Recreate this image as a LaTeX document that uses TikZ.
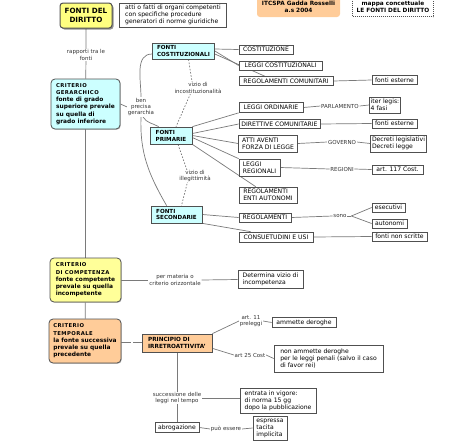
\documentclass[tikz,border=0pt]{standalone}
\usepackage{fontspec}
\setmainfont{DejaVu Sans}
\usetikzlibrary{shadows}
\pgfdeclarelayer{bg}
\pgfsetlayers{bg,main}
\definecolor{cyanbox}{HTML}{CCFFFF}
\definecolor{yelbox}{HTML}{FFFF99}
\definecolor{yeltop}{HTML}{FFFF80}
\definecolor{orabox}{HTML}{FFCC99}
\definecolor{lncol}{HTML}{7A7A7A}
\definecolor{bdcol}{HTML}{505050}
\newcommand\crh[1]{{\addfontfeature{LetterSpace=8}\fontsize{5.3}{7}\selectfont #1}}
\tikzset{
  wh/.style 2 args={minimum width=#1pt, minimum height=#2pt},
  bxb/.style={draw=bdcol, line width=0.7pt, fill=white, inner xsep=1.3pt, inner ysep=0.6pt, align=left, font=\fontsize{6.1}{7}\selectfont},
  bx/.style={bxb, drop shadow={shadow xshift=0.7pt, shadow yshift=-0.7pt, fill=black!45}},
  cybox/.style={bx, fill=cyanbox, font=\bfseries\fontsize{5.6}{6.9}\selectfont},
  crit/.style={draw=bdcol, line width=0.8pt, rounded corners=4pt, align=left, inner xsep=2.5pt, font=\bfseries\fontsize{5.9}{7.2}\selectfont, drop shadow={shadow xshift=0.8pt, shadow yshift=-0.8pt, fill=black!45}},
  lab/.style={fill=white, inner sep=0.6pt, align=center, text=black!80, font=\fontsize{5.5}{6.4}\selectfont},
  conn/.style={draw=lncol, line width=0.7pt},
  dconn/.style={conn, dash pattern=on 1.6pt off 1.6pt},
}
\begin{document}
\begin{tikzpicture}[x=1pt,y=-1pt]
\useasboundingbox (0,0) rectangle (474,445);
% header
\node[draw=bdcol, line width=1pt, fill=yeltop, rounded corners=3pt, wh={52}{25}, align=center, font=\bfseries\fontsize{7.2}{8.6}\selectfont, drop shadow={shadow xshift=1.5pt,shadow yshift=-1.5pt,fill=black!85}] (fdd) at (86,15.5) {FONTI DEL\\DIRITTO};
\node[bx, wh={107}{24}] (desc) at (173,15) {atti o fatti di organi competenti\\con specifiche procedure\\generatori di norme giuridiche};
\node[bxb, draw=none, fill=orabox, rounded corners=3pt, wh={83}{21}, align=center, font=\bfseries\fontsize{5.8}{7}\selectfont] (itc) at (298.5,6.5) {ITCSPA Gadda Rosselli\\a.s 2004};
\node[bxb, dash pattern=on 1pt off 1pt, wh={81}{20}, align=center, font=\bfseries\fontsize{5.8}{7}\selectfont] (mappa) at (393,6.5) {mappa concettuale\\LE FONTI DEL DIRITTO};
% criteria
\node[crit, fill=cyanbox, wh={69}{50}] (cg) at (85.5,104) {\crh{CRITERIO}\\\crh{GERARCHICO}\\fonte di grado\\superiore prevale\\su quella di\\grado inferiore};
\node[crit, fill=yelbox, wh={71}{44}] (cc) at (85.5,280) {\crh{CRITERIO}\\\crh{DI COMPETENZA}\\fonte competente\\prevale su quella\\incompetente};
\node[crit, fill=orabox, wh={72}{44}] (ct) at (85,341) {\crh{CRITERIO}\\\crh{TEMPORALE}\\la fonte successiva\\prevale su quella\\precedente};
% fonti
\node[cybox, wh={62}{16}] (fc) at (183.5,51) {FONTI\\COSTITUZIONALI};
\node[cybox, wh={42}{17}] (fp) at (171,135.5) {FONTI\\PRIMARIE};
\node[cybox, wh={51}{17}] (fs) at (176.5,214.5) {FONTI\\SECONDARIE};
% right boxes
\node[bx, wh={54}{9}] (cost) at (266,49.5) {COSTITUZIONE};
\node[bx, wh={83}{9}] (lcost) at (280.5,65.5) {LEGGI COSTITUZIONALI};
\node[bx, wh={94}{9}] (regcom) at (286,81) {REGOLAMENTI COMUNITARI};
\node[bx, wh={45}{9}] (fe1) at (394.5,80) {fonti esterne};
\node[bx, wh={64}{10}] (lord) at (271,107.5) {LEGGI ORDINARIE};
\node[lab] (parl) at (340,106) {PARLAMENTO};
\node[bx, wh={26}{16}] (iter) at (385,105) {iter legis:\\4 fasi};
\node[bx, wh={81}{9}] (dircom) at (279.5,124) {DIRETTIVE COMUNITARIE};
\node[bx, wh={45}{9}] (fe2) at (394.5,123.5) {fonti esterne};
\node[bx, wh={59}{17}] (atti) at (268,143.5) {ATTI AVENTI\\FORZA DI LEGGE};
\node[lab] (gov) at (342,142) {GOVERNO};
\node[bx, wh={53}{17}] (decr) at (398.5,143.5) {Decreti legislativi\\Decreti legge};
\node[bx, wh={41}{17}] (lreg) at (259.5,167.5) {LEGGI\\REGIONALI};
\node[lab] (regioni) at (342,169) {REGIONI};
\node[bx, wh={51}{9}] (art117) at (397.5,169.5) {art. 117 Cost.};
\node[bx, wh={58}{16}] (regenti) at (268,195) {REGOLAMENTI\\ENTI AUTONOMI};
\node[bx, wh={52}{9}] (regol) at (265,217.5) {REGOLAMENTI};
\node[lab] (sono) at (340,216) {sono};
\node[bx, wh={33}{9}] (esec) at (388.5,207.5) {esecutivi};
\node[bx, wh={35}{9}] (auton) at (389.5,223.5) {autonomi};
\node[bx, wh={74}{10}] (consuet) at (276,237) {CONSUETUDINI E USI};
\node[bx, wh={55}{9}] (fns) at (399.5,236.5) {fonti non scritte};
% labels
\node[lab] (rapp) at (86,55) {rapporti tra le\\fonti};
\node[lab] (ben) at (141,107) {ben\\precisa\\gerarchia};
\node[lab] (vinc) at (198,88) {vizio di\\incostituzionalità};
\node[lab] (vill) at (195,176) {vizio di\\illegittimità};
\node[lab] (perm) at (175,280) {per materia o\\criterio orizzontale};
\node[bx, wh={65}{18}] (determ) at (270.5,279.5) {Determina vizio di\\incompetenza};
% temporale part
\node[bx, fill=orabox, wh={70}{18}, font=\bfseries\fontsize{5.7}{6.9}\selectfont] (princ) at (177,343) {PRINCIPIO DI\\IRRETROATTIVITA'};
\node[inner sep=0pt, minimum width=2pt, minimum height=2pt] (gap) at (132,342) {};
\node[lab] (art11) at (251,321) {art. 11\\preleggi};
\node[bx, wh={64}{10}] (amm) at (304,322.5) {ammette deroghe};
\node[lab] (art25) at (250,355) {art 25 Cost};
\node[bx, wh={109}{27}] (nonamm) at (328.5,358.5) {non ammette deroghe\\per le leggi penali (salvo il caso\\di favor rei)};
\node[lab] (succ) at (177,398) {successione delle\\leggi nel tempo};
\node[bx, wh={76}{25}] (entr) at (278,400.5) {entrata in vigore:\\di norma 15 gg\\dopo la pubblicazione};
\node[bx, wh={44}{10}] (abrog) at (177,427.5) {abrogazione};
\node[lab] (puo) at (226,429) {può essere};
\node[bx, wh={34}{24}] (espr) at (270,428) {espressa\\tacita\\implicita};

\begin{pgfonlayer}{bg}
\draw[conn] (fdd) -- (rapp) -- (cg);
\draw[conn] (cg) -- (cc);
\draw[conn] (cc) -- (ct);
\draw[conn] (cg.east) -- (ben.west);
\draw[conn] (ben.north) to[out=90,in=180] ([yshift=-3pt]fc.west);
\draw[conn] (ben.south) to[out=-92,in=120] ([xshift=16pt]fs.north west);
\draw[conn] ([xshift=2pt]ben.south) to[out=-60,in=150] ([xshift=9pt]fp.north west);
\draw[dconn] ([xshift=5pt]fc.south) -- ([xshift=-5pt]vinc.center) -- ([xshift=5pt]fp.north);
\draw[dconn] ([xshift=7pt]fp.south) -- ([xshift=-6pt]vill.center) -- ([xshift=5pt]fs.north);
\draw[conn] ([yshift=2pt]fc.east) -- (cost.west);
\draw[conn] (fc.east) -- (lcost.west);
\draw[conn] ([yshift=-3pt]fc.east) -- ([xshift=26pt]regcom.north west);
\draw[conn] (regcom.east) -- (fe1.west);
\draw[conn] (fp.north east) -- (lord.south west);
\draw[conn] ([yshift=2pt]fp.east) -- (dircom.west);
\draw[conn] (fp.east) -- (atti.west);
\draw[conn] ([yshift=-2pt]fp.east) -- (lreg.north west);
\draw[conn] (fp.south east) -- ([xshift=17pt]regenti.north west);
\draw[conn] (lord.east) -- (parl.west);
\draw[conn] (parl.east) -- (iter.west);
\draw[conn] (dircom.east) -- (fe2.west);
\draw[conn] (atti.east) -- (gov.west);
\draw[conn] (gov.east) -- (decr.west);
\draw[conn] (lreg.east) -- (regioni.west);
\draw[conn] (regioni.east) -- (art117.west);
\draw[conn] (fs.east) -- (regol.west);
\draw[conn] (fs.south east) -- ([xshift=12pt]consuet.north west);
\draw[conn] (regol.east) -- (sono.west);
\draw[conn] ([xshift=4pt]sono.east) -- (esec.west);
\draw[conn] ([xshift=4pt]sono.east) -- (auton.west);
\draw[conn] (sono.east) -- ([xshift=4pt]sono.east);
\draw[conn] (consuet.east) -- (fns.west);
\draw[conn] (cc.east) -- (perm.west);
\draw[conn] (perm.east) -- (determ.west);
\draw[conn] (gap -| ct.east) -- (gap.west);
\draw[conn] (gap.east) -- (gap -| princ.west);
\draw[conn] (princ.north east) -- (art11.west);
\draw[conn] (art11.east) -- (amm.west);
\draw[conn] ([yshift=4pt]princ.south east) -- (art25.west);
\draw[conn] (art25.east) -- (nonamm.west);
\draw[conn] (princ.south) -- (abrog.north);
\draw[conn] (succ.east) -- (succ.east -| entr.west);
\draw[conn] (abrog.east) -- (puo.west);
\draw[conn] (puo.east) -- (espr.west);
\end{pgfonlayer}
\end{tikzpicture}
\end{document}
